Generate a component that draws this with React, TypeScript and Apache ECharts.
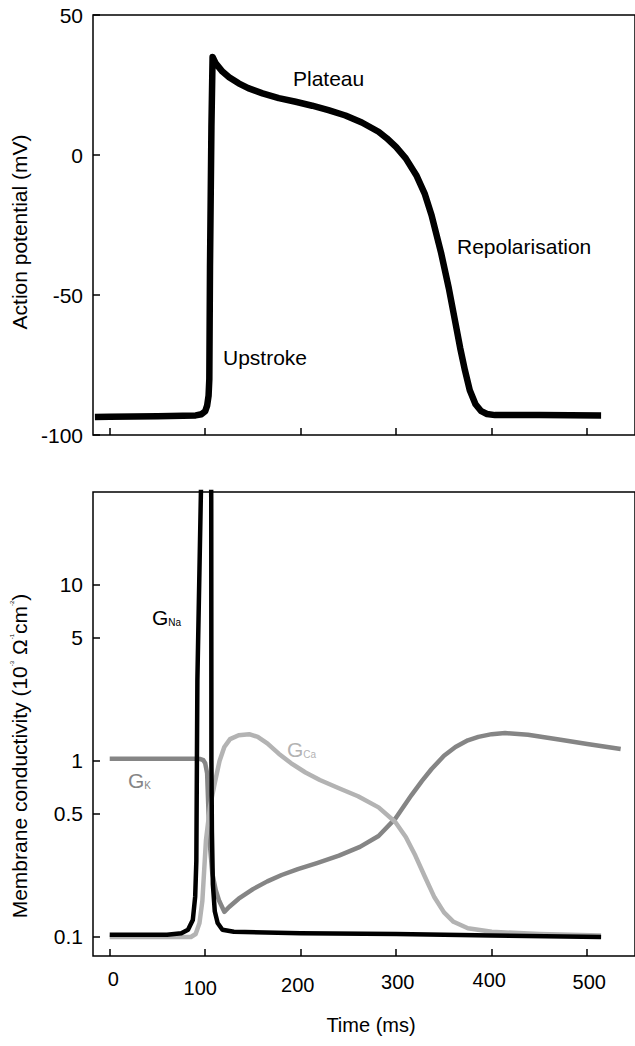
import React, { useEffect, useRef } from "react";
import * as echarts from "echarts";

// ---------- data ----------
const timeTicks = [0, 100, 200, 300, 400, 500];
const timeTickLabels = ["0", "100", "200", "300", "400", "500"];
const condTicks = [0.1, 0.5, 1, 5, 10];
const condTickLabels = ["0.1", "0.5", "1", "5", "10"];

// action potential (ms, mV)
const apTime = [-15.5, 0, 50, 90, 96, 100, 102, 103.5, 104.3, 105, 106.5, 107.7, 111, 118, 125, 135, 145, 160, 177, 194.7, 212, 229, 246.8, 264, 281.5, 290, 300, 310, 321, 330, 337, 347, 355, 362, 367, 372, 377, 383, 389, 395, 403.5, 450, 514.5];
const apVoltage = [-93.6, -93.5, -93.3, -93, -92.6, -91.5, -89.5, -86, -80, -40, 10, 35, 32.7, 29.8, 27.8, 25.6, 23.9, 22.0, 20.3, 19.0, 17.6, 16.0, 14.1, 11.6, 8.3, 6.0, 2.8, -1.2, -7.2, -14, -21.5, -35, -47.5, -60, -69, -77, -84, -89, -91.5, -92.5, -92.9, -92.9, -93];

// conductivities
const gNaTime = [0, 60, 75, 82, 87, 89.5, 90.7, 91.8, 95.5, 97, 105.8, 106.3, 106.5, 107, 108, 110, 113, 118, 130, 200, 300, 400, 514.5];
const gNaValue = [0.103, 0.103, 0.105, 0.11, 0.125, 0.17, 0.27, 2.9, 33.7, 100, 100, 30, 1, 0.4, 0.2, 0.14, 0.12, 0.11, 0.107, 0.105, 0.104, 0.102, 0.1];

const gKTime = [0, 50, 90, 95, 98, 100, 102, 103.5, 105, 107.4, 111, 114.7, 120, 125, 135, 150, 165, 180, 197, 217, 240, 262, 281.5, 299, 316, 327, 337, 350, 362, 375, 386, 400, 414, 438, 472, 500, 535];
const gKValue = [1.03, 1.03, 1.03, 1.025, 1.01, 0.97, 0.85, 0.5, 0.33, 0.23, 0.185, 0.16, 0.139, 0.148, 0.165, 0.187, 0.207, 0.225, 0.243, 0.263, 0.29, 0.325, 0.375, 0.47, 0.64, 0.77, 0.9, 1.07, 1.2, 1.31, 1.37, 1.42, 1.44, 1.41, 1.32, 1.25, 1.17];

const gCaTime = [0, 85, 90, 94, 97, 100.8, 105, 110, 115, 120, 126, 135, 146, 155, 165, 177, 190, 205, 220, 240, 260, 281.5, 299, 310, 320, 330, 340, 350, 360, 375, 400, 450, 514.5];
const gCaValue = [0.1, 0.1, 0.104, 0.12, 0.16, 0.356, 0.55, 0.75, 1.0, 1.2, 1.33, 1.4, 1.42, 1.37, 1.26, 1.1, 0.97, 0.86, 0.78, 0.7, 0.63, 0.545, 0.45, 0.37, 0.29, 0.22, 0.168, 0.138, 0.122, 0.112, 0.107, 0.104, 0.102];

// ---------- helpers ----------
const FONT = "'Liberation Sans', Arial, Helvetica, sans-serif";
const zip = (xs: number[], ys: number[]) => xs.map((x, i) => [x, ys[i]]);
const zipLog = (xs: number[], ys: number[]) => xs.map((x, i) => [x, Math.log10(ys[i])]);
const condTickLogs = condTicks.map((v) => Math.log10(v));

export default function App() {
  const ref = useRef<HTMLDivElement>(null);

  useEffect(() => {
    document.body.style.margin = "0";
    if (!ref.current) return;
    const chart = echarts.init(ref.current, undefined, { renderer: "svg" });

    const xLabelRich: Record<string, any> = {
      l0: { fontSize: 20, color: "#000", fontFamily: FONT, padding: [0, 0, 0, 7] },
      l1: { fontSize: 20, color: "#000", fontFamily: FONT, padding: [9, 10, 0, 0] },
      l2: { fontSize: 20, color: "#000", fontFamily: FONT, padding: [6, 6, 0, 0] },
      l3: { fontSize: 20, color: "#000", fontFamily: FONT, padding: [3, 0, 0, 3] },
      l4: { fontSize: 20, color: "#000", fontFamily: FONT, padding: [1, 5, 0, 0] },
      l5: { fontSize: 20, color: "#000", fontFamily: FONT, padding: [3, 0, 0, 4] },
    };

    const gridW = 544.2;
    const tickStyle = { color: "#000", width: 1.5 };
    const noLine = { show: false, onZero: false };

    const option: any = {
      animation: false,
      backgroundColor: "#fff",
      textStyle: { fontFamily: FONT },
      grid: [
        { left: 93, top: 15, width: gridW, height: 420, show: true, borderColor: "#000", borderWidth: 1.5, backgroundColor: "transparent" },
        { left: 93, top: 492, width: gridW, height: 464, show: true, borderColor: "#000", borderWidth: 1.5, backgroundColor: "transparent" },
      ],
      xAxis: [
        {
          gridIndex: 0,
          type: "value",
          position: "bottom",
          min: -17.5,
          max: 550,
          axisLine: noLine,
          splitLine: { show: false },
          axisTick: { show: true, inside: true, length: 7, customValues: timeTicks, lineStyle: tickStyle },
          axisLabel: { show: false, customValues: timeTicks },
        },
        {
          gridIndex: 1,
          type: "value",
          position: "bottom",
          min: -17.5,
          max: 550,
          axisLine: noLine,
          splitLine: { show: false },
          axisTick: { show: true, inside: true, length: 7, customValues: timeTicks, lineStyle: tickStyle },
          axisLabel: {
            customValues: timeTicks,
            margin: 13,
            fontSize: 20,
            color: "#000",
            fontFamily: FONT,
            formatter: (v: number) => {
              const i = timeTicks.indexOf(Math.round(v));
              return i < 0 ? "" : `{l${i}|${timeTickLabels[i]}}`;
            },
            rich: xLabelRich,
          },
          name: "Time (ms)",
          nameLocation: "middle",
          nameGap: 59,
          nameTextStyle: { fontSize: 20, color: "#000", fontFamily: FONT, padding: [0, 0, 0, 14] },
        },
      ],
      yAxis: [
        {
          gridIndex: 0,
          type: "value",
          position: "left",
          min: -100,
          max: 50,
          interval: 50,
          axisLine: noLine,
          splitLine: { show: false },
          axisTick: { show: true, inside: true, length: 7, lineStyle: tickStyle },
          axisLabel: { fontSize: 21, color: "#000", fontFamily: FONT, margin: 10 },
          name: "Action potential (mV)",
          nameLocation: "middle",
          nameRotate: 90,
          nameGap: 59,
          nameTextStyle: { fontSize: 21, color: "#000", fontFamily: FONT, padding: [0, 14, 0, 0] },
        },
        {
          gridIndex: 1,
          type: "value",
          position: "left",
          min: -1.108,
          max: 1.528,
          axisLine: noLine,
          splitLine: { show: false },
          axisTick: { show: true, inside: true, length: 7, customValues: condTickLogs, lineStyle: tickStyle },
          axisLabel: {
            customValues: condTickLogs,
            fontSize: 21,
            color: "#000",
            fontFamily: FONT,
            margin: 10,
            formatter: (v: number) => {
              let best = 0;
              condTickLogs.forEach((t, i) => {
                if (Math.abs(t - v) < Math.abs(condTickLogs[best] - v)) best = i;
              });
              return condTickLabels[best];
            },
          },
          name: "Membrane conductivity (10{s|-3} Ω{s|-1}cm{s|-2})",
          nameLocation: "middle",
          nameRotate: 90,
          nameGap: 63,
          nameTextStyle: {
            fontSize: 21,
            color: "#000",
            fontFamily: FONT,
            padding: [0, 64, 0, 0],
            rich: { s: { fontSize: 6, color: "#000", fontFamily: FONT, verticalAlign: "top" } },
          },
        },
      ],
      series: [
        {
          type: "line",
          name: "Action potential",
          xAxisIndex: 0,
          yAxisIndex: 0,
          data: zip(apTime, apVoltage),
          showSymbol: false,
          smooth: false,
          lineStyle: { color: "#000", width: 6.5, join: "round" },
        },
        {
          type: "line",
          name: "GK",
          xAxisIndex: 1,
          yAxisIndex: 1,
          data: zipLog(gKTime, gKValue),
          showSymbol: false,
          smooth: false,
          lineStyle: { color: "#858585", width: 4.5, join: "round" },
        },
        {
          type: "line",
          name: "GCa",
          xAxisIndex: 1,
          yAxisIndex: 1,
          data: zipLog(gCaTime, gCaValue),
          showSymbol: false,
          smooth: false,
          lineStyle: { color: "#b3b3b3", width: 4.5, join: "round" },
        },
        {
          type: "line",
          name: "GNa",
          xAxisIndex: 1,
          yAxisIndex: 1,
          data: zipLog(gNaTime, gNaValue),
          showSymbol: false,
          smooth: false,
          lineStyle: { color: "#000", width: 4.5, join: "round" },
        },
      ],
      graphic: [
        { type: "text", x: 293, y: 78, style: { text: "Plateau", fontSize: 21, fontFamily: FONT, fill: "#000", align: "left", verticalAlign: "middle", textAlign: "left", textVerticalAlign: "middle" } },
        { type: "text", x: 223, y: 357, style: { text: "Upstroke", fontSize: 21, fontFamily: FONT, fill: "#000", align: "left", verticalAlign: "middle", textAlign: "left", textVerticalAlign: "middle" } },
        { type: "text", x: 457, y: 246, style: { text: "Repolarisation", fontSize: 21, fontFamily: FONT, fill: "#000", align: "left", verticalAlign: "middle", textAlign: "left", textVerticalAlign: "middle" } },
        {
          type: "text", x: 152, y: 617,
          style: {
            text: "{g|G}{s|Na}", fill: "#000", align: "left", verticalAlign: "middle", textAlign: "left", textVerticalAlign: "middle",
            rich: { g: { fontSize: 21, fontFamily: FONT, fill: "#000" }, s: { fontSize: 10, fontFamily: FONT, fill: "#000", verticalAlign: "bottom" } },
          },
        },
        {
          type: "text", x: 128, y: 780,
          style: {
            text: "{g|G}{s|K}", fill: "#858585", align: "left", verticalAlign: "middle", textAlign: "left", textVerticalAlign: "middle",
            rich: { g: { fontSize: 21, fontFamily: FONT, fill: "#858585" }, s: { fontSize: 10, fontFamily: FONT, fill: "#858585", verticalAlign: "bottom" } },
          },
        },
        {
          type: "text", x: 287, y: 749,
          style: {
            text: "{g|G}{s|Ca}", fill: "#b3b3b3", align: "left", verticalAlign: "middle", textAlign: "left", textVerticalAlign: "middle",
            rich: { g: { fontSize: 21, fontFamily: FONT, fill: "#b3b3b3" }, s: { fontSize: 10, fontFamily: FONT, fill: "#b3b3b3", verticalAlign: "bottom" } },
          },
        },
      ],
    };

    chart.setOption(option);
    return () => chart.dispose();
  }, []);

  return <div ref={ref} style={{ width: 635, height: 1046 }} />;
}
